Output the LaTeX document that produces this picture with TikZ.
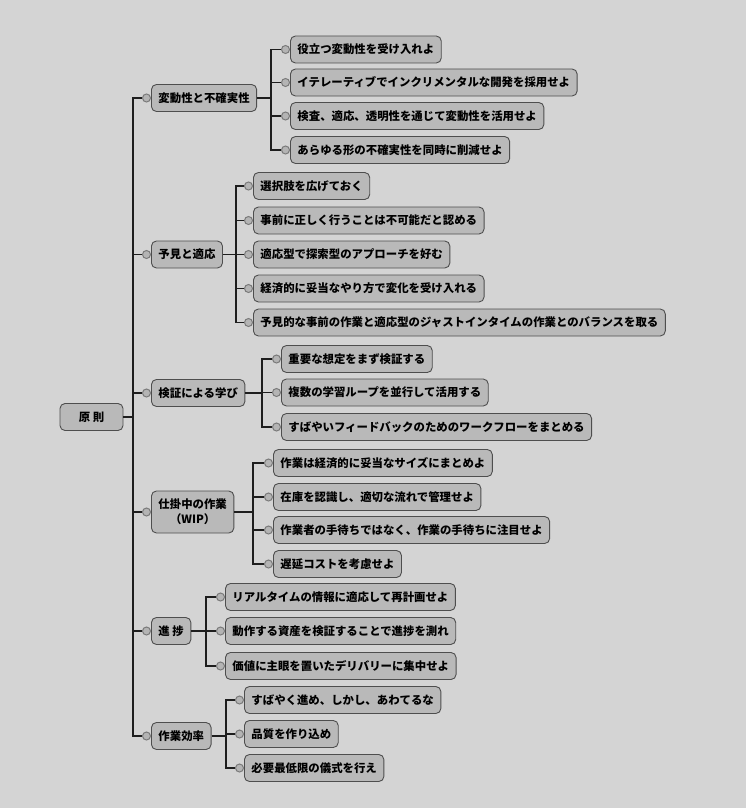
\documentclass[tikz,border=0pt]{standalone}
\usepackage{fontspec}
\setmainfont{Noto Sans CJK JP}
\definecolor{bg}{HTML}{D4D4D4}
\definecolor{boxfill}{HTML}{B9B9B9}
\definecolor{boxline}{HTML}{4E4E4E}
\definecolor{linec}{HTML}{1E1E1E}
\definecolor{dotfill}{HTML}{B4B4B4}
\definecolor{dotline}{HTML}{7A7A7A}
\newcommand\mmleaf[4]{\node[dot] (#1c) at ({#2-4.5},#3) {};\node[box] (#1) at (#2,#3) {#4};}
\begin{document}
\begin{tikzpicture}[x=1pt,y=-1pt,
  box/.style={draw=boxline, fill=boxfill, rounded corners=5pt, line width=0.9pt,
    minimum height=27pt, inner xsep=7pt, inner ysep=3pt,
    font=\fontsize{11.4}{15}\selectfont\bfseries, anchor=west, text=black},
  dot/.style={circle, minimum size=8pt, inner sep=0pt, draw=dotline, line width=1pt, fill=dotfill},
  link/.style={draw=linec, line width=1.3pt}]
\fill[bg] (0,0) rectangle (746,808);
\useasboundingbox (0,0) rectangle (746,808);

% root
\node[box, anchor=center, minimum width=63pt] (r) at (91.5,417) {原 則};
\coordinate (t) at (133,417);
\draw[link] (r.east) -- (t);

% level 1
\mmleaf{p1}{151}{98}{変動性と不確実性}
\mmleaf{p2}{151}{254.5}{予見と適応}
\mmleaf{p3}{151}{393}{検証による学び}
\node[dot] (p4c) at (146.5,512) {};
\node[box, minimum height=42pt, align=center] (p4) at (151,512) {仕掛中の作業\\（WIP）};
\mmleaf{p5}{151}{631}{進 捗}
\mmleaf{p6}{151}{736}{作業効率}
\foreach \p in {p1,p2,p3,p4,p5,p6} {\draw[link] (t) |- (\p c.west);}

% group 1
\coordinate (j1) at (271,98);
\mmleaf{a1}{290}{49.5}{役立つ変動性を受け入れよ}
\mmleaf{a2}{290}{82.5}{イテレーティブでインクリメンタルな開発を採用せよ}
\mmleaf{a3}{290}{116}{検査、適応、透明性を通じて変動性を活用せよ}
\mmleaf{a4}{290}{150}{あらゆる形の不確実性を同時に削減せよ}
\draw[link] (p1.east) -- (j1);
\foreach \c in {a1,a2,a3,a4} {\draw[link] (j1) |- (\c c.west);}

% group 2
\coordinate (j2) at (236,254.5);
\mmleaf{b1}{253}{186}{選択肢を広げておく}
\mmleaf{b2}{253}{220.5}{事前に正しく行うことは不可能だと認める}
\mmleaf{b3}{253}{254.5}{適応型で探索型のアプローチを好む}
\mmleaf{b4}{253}{288.5}{経済的に妥当なやり方で変化を受け入れる}
\mmleaf{b5}{253}{322.5}{予見的な事前の作業と適応型のジャストインタイムの作業とのバランスを取る}
\draw[link] (p2.east) -- (j2);
\foreach \c in {b1,b2,b3,b4,b5} {\draw[link] (j2) |- (\c c.west);}

% group 3
\coordinate (j3) at (262,393);
\mmleaf{d1}{281}{359}{重要な想定をまず検証する}
\mmleaf{d2}{281}{392.5}{複数の学習ループを並行して活用する}
\mmleaf{d3}{281}{427}{すばやいフィードバックのためのワークフローをまとめる}
\draw[link] (p3.east) -- (j3);
\foreach \c in {d1,d2,d3} {\draw[link] (j3) |- (\c c.west);}

% group 4
\coordinate (j4) at (253,512);
\mmleaf{e1}{273}{463}{作業は経済的に妥当なサイズにまとめよ}
\mmleaf{e2}{273}{497}{在庫を認識し、適切な流れで管理せよ}
\mmleaf{e3}{273}{530}{作業者の手待ちではなく、作業の手待ちに注目せよ}
\mmleaf{e4}{273}{564}{遅延コストを考慮せよ}
\draw[link] (p4.east) -- (j4);
\foreach \c in {e1,e2,e3,e4} {\draw[link] (j4) |- (\c c.west);}

% group 5
\coordinate (j5) at (206,631);
\mmleaf{f1}{225}{597}{リアルタイムの情報に適応して再計画せよ}
\mmleaf{f2}{225}{631}{動作する資産を検証することで進捗を測れ}
\mmleaf{f3}{225}{666}{価値に主眼を置いたデリバリーに集中せよ}
\draw[link] (p5.east) -- (j5);
\foreach \c in {f1,f2,f3} {\draw[link] (j5) |- (\c c.west);}

% group 6
\coordinate (j6) at (226,736);
\mmleaf{g1}{244}{700}{すばやく進め、しかし、あわてるな}
\mmleaf{g2}{244}{734}{品質を作り込め}
\mmleaf{g3}{244}{768}{必要最低限の儀式を行え}
\draw[link] (p6.east) -- (j6);
\foreach \c in {g1,g2,g3} {\draw[link] (j6) |- (\c c.west);}
\end{tikzpicture}
\end{document}
